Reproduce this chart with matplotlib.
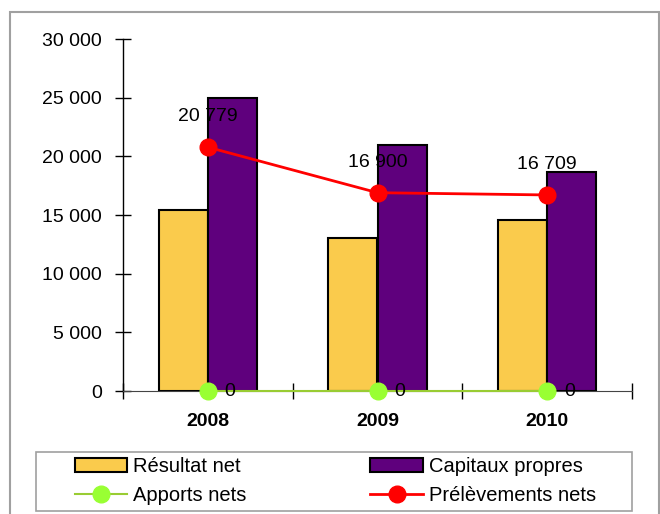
import matplotlib.pyplot as plt
import numpy as np
from matplotlib.patches import Rectangle

plt.rcParams['font.family'] = ['Liberation Sans', 'DejaVu Sans']

years = ['2008', '2009', '2010']
resultat_net = [15400, 13000, 14600]
capitaux_propres = [25000, 21000, 18700]
apports_nets = [0, 0, 0]
prelevements_nets = [20779, 16900, 16709]

def fmt(v):
    return f"{v:,}".replace(',', ' ')

fig = plt.figure(figsize=(6.6, 5.14), dpi=100)
ax = fig.add_axes([123/660, 1 - 391/514, (632-123)/660, (391-39)/514])

x = np.arange(len(years))
w = 0.29
b1 = ax.bar(x - w/2, resultat_net, w, color='#FACB4C', edgecolor='black', linewidth=1.5, zorder=2)
b2 = ax.bar(x + w/2, capitaux_propres, w, color='#5F007D', edgecolor='black', linewidth=1.5, zorder=2)
l1, = ax.plot(x, apports_nets, color='#99CC33', lw=1.5, marker='o', ms=12,
              mfc='#99FF33', mec='#99FF33', zorder=4, clip_on=False)
l2, = ax.plot(x, prelevements_nets, color='#FF0000', lw=2, marker='o', ms=12,
              mfc='#FF0000', mec='#FF0000', zorder=4)

for xi, v in zip(x, prelevements_nets):
    ax.annotate(fmt(v), (xi, v), xytext=(0, 22), textcoords='offset points',
                ha='center', va='center', fontsize=14, zorder=5)
for xi, v in zip(x, apports_nets):
    ax.annotate(fmt(v), (xi, v), xytext=(16, 0), textcoords='offset points',
                ha='center', va='center', fontsize=14, zorder=5)

ax.set_xlim(-0.5, 2.5)
ax.set_ylim(0, 30000)
ax.set_yticks(np.arange(0, 30001, 5000))
ax.set_yticklabels([fmt(v) for v in range(0, 30001, 5000)], fontsize=14)
ax.set_xticks([-0.5, 0.5, 1.5, 2.5])
ax.set_xticklabels([])
ax.set_xticks(x, minor=True)
ax.set_xticklabels(years, minor=True, fontsize=14, fontweight='bold')
ax.tick_params(axis='x', which='minor', length=0, pad=16)
ax.tick_params(axis='both', which='major', direction='inout', length=12, width=1)
ax.tick_params(axis='y', pad=9)
for s in ['top', 'right']:
    ax.spines[s].set_visible(False)
ax.spines['left'].set_linewidth(1)
ax.spines['bottom'].set_color('#444444')

handles = [b1, l1, b2, l2]
labels = ['Résultat net', 'Apports nets', 'Capitaux propres', 'Prélèvements nets']
leg = fig.legend(handles, labels, ncol=2, loc='center left',
                 bbox_to_anchor=(65/660, 1 - 510/514, (606-65)/660, (510-452)/514),
                 mode='expand', fontsize=14.5, frameon=False, borderpad=0,
                 handlelength=2.6, handleheight=0.65, handletextpad=0.3, labelspacing=0.5)

fig.patches.append(Rectangle((36/660, 1 - 511/514), (632-36)/660, (511-452)/514,
                             transform=fig.transFigure, fill=False,
                             edgecolor='#A0A0A0', linewidth=1.2))
fig.patches.append(Rectangle((10/660, -0.01), (659-10)/660, 1 - 12/514 + 0.01,
                             transform=fig.transFigure, fill=False,
                             edgecolor='#A0A0A0', linewidth=1.5))

fig.savefig('out.png', dpi=100)
